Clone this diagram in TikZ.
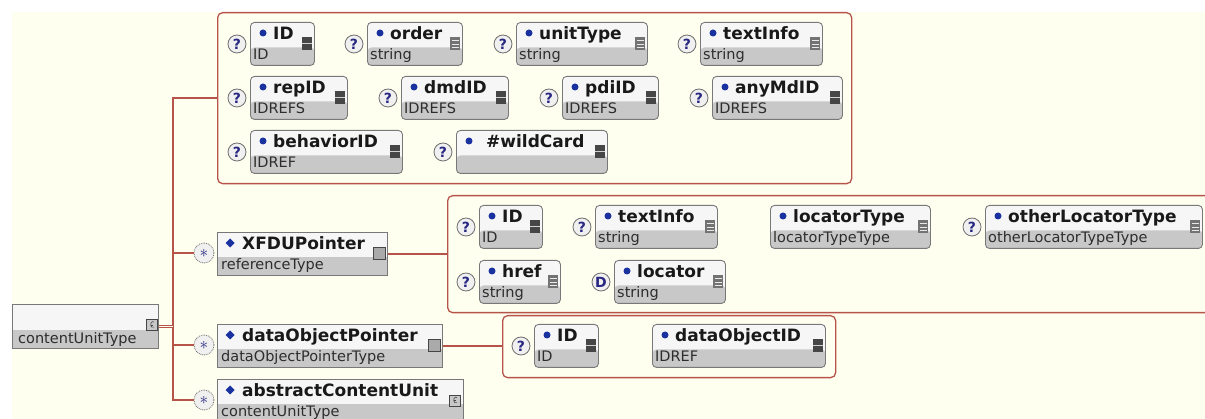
\documentclass[tikz,border=0pt]{standalone}
\usepackage{fontspec}
\setmainfont{DejaVu Sans}

\definecolor{bgcream}{RGB}{255,255,240}
\definecolor{linkred}{RGB}{182,84,74}
\definecolor{boxgrey}{RGB}{120,120,120}
\definecolor{bandgrey}{RGB}{200,200,200}
\definecolor{topfill}{RGB}{246,246,246}
\definecolor{navy}{RGB}{40,40,130}
\definecolor{bullblue}{RGB}{25,50,160}
\definecolor{darkicon}{RGB}{70,70,70}
\definecolor{strgrey}{RGB}{115,115,115}
\definecolor{markfill}{RGB}{240,240,240}
\definecolor{markgrey}{RGB}{110,110,110}
\definecolor{typegrey}{RGB}{45,45,45}

\tikzset{
  link/.style={draw=linkred, line width=1.6pt},
  group/.style={draw=linkred, line width=1.3pt, rounded corners=5pt, fill=bgcream,
    anchor=north west, inner sep=0pt},
  att/.style={draw=boxgrey, line width=0.9pt, rounded corners=4pt, fill=topfill,
    anchor=north west, inner sep=0pt, minimum height=43pt,
    path picture={\fill[bandgrey] (path picture bounding box.south west)
      rectangle ([yshift=18pt]path picture bounding box.south east);}},
  elem/.style={att, rounded corners=0pt},
  attname/.style={anchor=base west, inner sep=0pt, text=black!90,
    font=\fontsize{17}{20}\selectfont\bfseries},
  atttype/.style={anchor=base west, inner sep=0pt, text=typegrey,
    font=\fontsize{14.5}{17}\selectfont},
  qmark/.style={circle, draw=markgrey, fill=markfill, line width=0.8pt,
    minimum size=18pt, inner sep=0pt, text=navy, font=\fontsize{14}{14}\selectfont\bfseries},
  starmark/.style={circle, draw=markgrey, densely dotted, fill=markfill, line width=0.8pt,
    minimum size=20pt, inner sep=0pt, text=navy, font=\fontsize{17}{17}\selectfont},
  idicon/.style={rectangle, fill=darkicon, minimum width=10pt, minimum height=13pt, inner sep=0pt,
    path picture={\draw[white!75!darkicon, line width=1pt] (path picture bounding box.west)
      -- (path picture bounding box.east);}},
  stricon/.style={rectangle, fill=strgrey, minimum width=10pt, minimum height=13pt, inner sep=0pt,
    path picture={\foreach \k in {-3.5,0,3.5}
      \draw[white!85!strgrey, line width=0.8pt] ([xshift=1.5pt,yshift=\k pt]path picture bounding box.west)
      -- ([xshift=-1.5pt,yshift=\k pt]path picture bounding box.east);}},
  cplxicon/.style={rectangle, draw=darkicon, fill=bandgrey!85!black, line width=0.8pt,
    minimum size=12pt, inner sep=0pt},
  cuicon/.style={rectangle, draw=darkicon, fill=bandgrey, line width=0.7pt,
    minimum size=11pt, inner sep=0pt,
    path picture={\draw[darkicon, line width=0.6pt] ([xshift=2pt,yshift=3pt]path picture bounding box.center)
      arc (60:300:2.2pt and 3pt);
      \draw[darkicon, line width=0.6pt] ([xshift=-1.5pt]path picture bounding box.center) -- ++(2.5pt,0);}}
}

%% attribute box: name, left, right, top, title, type, icon, marker
\newcommand{\attbox}[8]{%
  \node[att, minimum width={#3-#2}] (#1) at (#2,#4) {};
  \fill[bullblue] (#2+13,#4+11) circle (3.5pt);
  \node[attname] (#1n) at (#2+23,#4+18) {#5};
  \node[atttype] (#1t) at (#2+3,#4+38) {#6};
  \node[#7] (#1i) at (#3-7,#4+22) {};
  \if\relax\detokenize{#8}\relax\else
    \node[qmark] (#1m) at (#2-13,#4+22) {#8};
  \fi
}
%% element box: name, left, right, top, title, type, icon
\newcommand{\elembox}[7]{%
  \node[elem, minimum width={#3-#2}] (#1) at (#2,#4) {};
  \fill[bullblue] (#2+8.5,#4+11) -- (#2+13,#4+6.5) -- (#2+17.5,#4+11) -- (#2+13,#4+15.5) -- cycle;
  \node[attname] (#1n) at (#2+25,#4+18) {#5};
  \node[atttype] (#1t) at (#2+4,#4+38) {#6};
  \node[#7] (#1i) at (#3-8,#4+21.5) {};
  \node[starmark] (#1m) at (#2-13,#4+21) {$\ast$};
}

\begin{document}
\begin{tikzpicture}[x=1pt,y=-1pt]
    %% canvas
    \path[use as bounding box] (0,0) rectangle (1205,419);
    \clip (0,0) rectangle (1205,419);
    \fill[white] (0,0) rectangle (1205,419);
    \fill[bgcream] (12,12) rectangle (1205,419);
    %% groups
    \node[group, minimum width=634, minimum height=171] (attrs) at (217,12) {};
    \node[group, minimum width=770, minimum height=117] (locs) at (447,195) {};
    \node[group, minimum width=333, minimum height=62] (dobj) at (502,315) {};
    %% attributes of contentUnitType
    \attbox{id}{250}{314}{22}{ID}{ID}{idicon}{?}
    \attbox{order}{367}{462}{22}{order}{string}{stricon}{?}
    \attbox{unittype}{516}{647}{22}{unitType}{string}{stricon}{?}
    \attbox{textinfo}{700}{822}{22}{textInfo}{string}{stricon}{?}
    \attbox{repid}{250}{347}{76}{repID}{IDREFS}{idicon}{?}
    \attbox{dmdid}{401}{508}{76}{dmdID}{IDREFS}{idicon}{?}
    \attbox{pdiid}{562}{658}{76}{pdiID}{IDREFS}{idicon}{?}
    \attbox{anymdid}{712}{842}{76}{anyMdID}{IDREFS}{idicon}{?}
    \attbox{behaviorid}{250}{402}{130}{behaviorID}{IDREF}{idicon}{?}
    \attbox{wildcard}{456}{607}{130}{\kern7pt\#wildCard}{}{idicon}{?}
    %% attributes of referenceType
    \attbox{locid}{479}{542}{205}{ID}{ID}{idicon}{?}
    \attbox{loctext}{595}{717}{205}{textInfo}{string}{stricon}{?}
    \attbox{loctype}{770}{930}{205}{locatorType}{locatorTypeType}{stricon}{}
    \attbox{otherloc}{985}{1202}{205}{otherLocatorType}{otherLocatorTypeType}{stricon}{?}
    \attbox{href}{479}{560}{260}{href}{string}{stricon}{?}
    \attbox{locator}{614}{725}{260}{locator}{string}{stricon}{D}
    %% attributes of dataObjectPointerType
    \attbox{dobjid}{534}{598}{324}{ID}{ID}{idicon}{?}
    \attbox{dataobjid}{652}{825}{324}{dataObjectID}{IDREF}{idicon}{}
    %% root and child elements
    \node[elem, minimum width=146, minimum height=44] (root) at (12,304) {};
    \node[atttype] (roott) at (18,344) {contentUnitType};
    \node[cuicon] (rooti) at (152,325) {};
    \elembox{xfdu}{217}{387}{232}{XFDUPointer}{referenceType}{cplxicon}
    \elembox{dop}{217}{442}{324}{dataObjectPointer}{dataObjectPointerType}{cplxicon}
    \elembox{acu}{217}{463}{379}{abstractContentUnit}{contentUnitType}{cuicon}
    %% connectors
    \coordinate (bus) at (173,324);
    \draw[link] (attrs.west) -| (bus) |- (acum.west);
    \draw[link] (xfdum.west) -- (xfdum.west -| bus);
    \draw[link] (dopm.west) -- (dopm.west -| bus);
    \draw[link, line width=0.9pt, double=bgcream, double distance=1.2pt] (root.east) -- (root.east -| bus);
    \draw[link] (xfdu.east) -- (xfdu.east -| locs.west);
    \draw[link] (dop.east) -- (dop.east -| dobj.west);
\end{tikzpicture}
\end{document}
